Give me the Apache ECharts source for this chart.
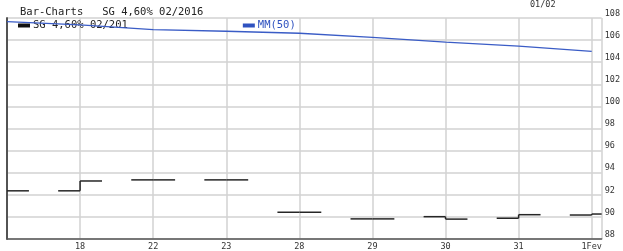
<!DOCTYPE html>
<html>
<head>
<meta charset="utf-8">
<script src="https://cdn.jsdelivr.net/npm/echarts@6/dist/echarts.min.js"></script>
<style>
html,body{margin:0;padding:0;background:#fff;}
#chart{width:623px;height:251px;}
</style>
</head>
<body>
<div id="chart"></div>
<script>
// Data
var categories = ['', '18', '22', '23', '28', '29', '30', '31', '1Fev'];
var opens  = [92.36, 92.36, 93.35, 93.35, 90.42, 89.82, 90.02, 89.88, 90.17];
var closes = [92.36, 93.25, 93.35, 93.35, 90.42, 89.82, 89.80, 90.20, 90.26];
var mm50   = [107.68, 107.38, 106.95, 106.8, 106.62, 106.25, 105.82, 105.45, 104.98];
var yTicks = [88, 90, 92, 94, 96, 98, 100, 102, 104, 106, 108];
var seriesName = 'SG 4,60% 02/201';
var titleText = 'Bar-Charts   SG 4,60% 02/2016';
var monthMark = '01/02';

var ohlcData = opens.map(function (o, i) { return [i, o, closes[i]]; });
var mmData = mm50.map(function (v, i) { return [i, v]; });

var mono = 'DejaVu Sans Mono';
var chart = echarts.init(document.getElementById('chart'), null, {renderer: 'canvas'});

function renderOHLC(params, api) {
  var x = api.value(0), o = api.value(1), c = api.value(2);
  var po = api.coord([x, o]);
  var pc = api.coord([x, c]);
  var half = api.size([0.3, 0])[0];
  var cs = params.coordSys;
  var left = Math.max(cs.x, po[0] - half);
  var right = Math.min(cs.x + cs.width, pc[0] + half);
  var style = {stroke: '#262626', lineWidth: 1.5};
  var children = [];
  if (left < po[0]) children.push({type: 'line', shape: {x1: left, y1: po[1], x2: po[0], y2: po[1]}, style: style});
  children.push({type: 'line', shape: {x1: pc[0], y1: pc[1], x2: right, y2: pc[1]}, style: style});
  if (Math.abs(po[1] - pc[1]) > 0.5) children.push({type: 'line', shape: {x1: po[0], y1: po[1], x2: pc[0], y2: pc[1]}, style: style});
  return {type: 'group', children: children};
}

chart.setOption({
  animation: false,
  backgroundColor: '#fff',
  title: {
    text: titleText, left: 15, top: 2,
    textStyle: {fontFamily: mono, fontSize: 10.5, fontWeight: 'normal', color: '#222'}
  },
  legend: {
    left: 18, top: 20, padding: 0, itemWidth: 12, itemHeight: 4, itemGap: 115, icon: 'rect',
    textStyle: {fontFamily: mono, fontSize: 10.5, padding: [0, 0, 0, -2]},
    data: [
      {name: seriesName, textStyle: {color: '#222'}},
      {name: 'MM(50)', textStyle: {color: '#2f52c0'}}
    ]
  },
  graphic: [{
    type: 'text', left: 530, top: 0,
    style: {text: monthMark, font: '8.5px "DejaVu Sans Mono"', fill: '#333'}
  }],
  grid: {left: 7, right: 19, top: 18, bottom: 12, containLabel: false},
  xAxis: {
    type: 'value', min: 0, max: 8.136, interval: 1,
    axisLine: {show: true, onZero: false, lineStyle: {color: '#555', width: 1.5}},
    axisTick: {show: false},
    axisLabel: {
      showMinLabel: false, showMaxLabel: false, margin: 3,
      fontFamily: mono, fontSize: 8.5, color: '#333',
      formatter: function (v) { return Number.isInteger(v) ? (categories[v] || '') : ''; }
    },
    splitLine: {show: true, lineStyle: {color: '#d2d2d2', width: 1.5}}
  },
  yAxis: [{
    type: 'value', position: 'right', min: yTicks[0], max: yTicks[yTicks.length - 1], interval: 2,
    axisLine: {show: true, lineStyle: {color: '#222', width: 1.5}},
    axisTick: {show: false},
    axisLabel: {margin: 3, fontFamily: mono, fontSize: 8.5, color: '#333', verticalAlign: 'bottom'},
    splitLine: {show: true, lineStyle: {color: '#d2d2d2', width: 1.5}}
  }, {
    type: 'value', position: 'left', min: yTicks[0], max: yTicks[yTicks.length - 1],
    axisLine: {show: true, lineStyle: {color: '#555', width: 1.5}},
    axisTick: {show: false}, axisLabel: {show: false}, splitLine: {show: false}
  }],
  series: [{
    name: seriesName, type: 'custom', renderItem: renderOHLC,
    data: ohlcData, encode: {x: 0, y: [1, 2]},
    itemStyle: {color: '#111'}, z: 3
  }, {
    name: 'MM(50)', type: 'line', data: mmData, showSymbol: false, clip: false,
    lineStyle: {color: '#3a5cc6', width: 1.3}, itemStyle: {color: '#2f52c0'}, z: 4
  }]
});
</script>
</body>
</html>
